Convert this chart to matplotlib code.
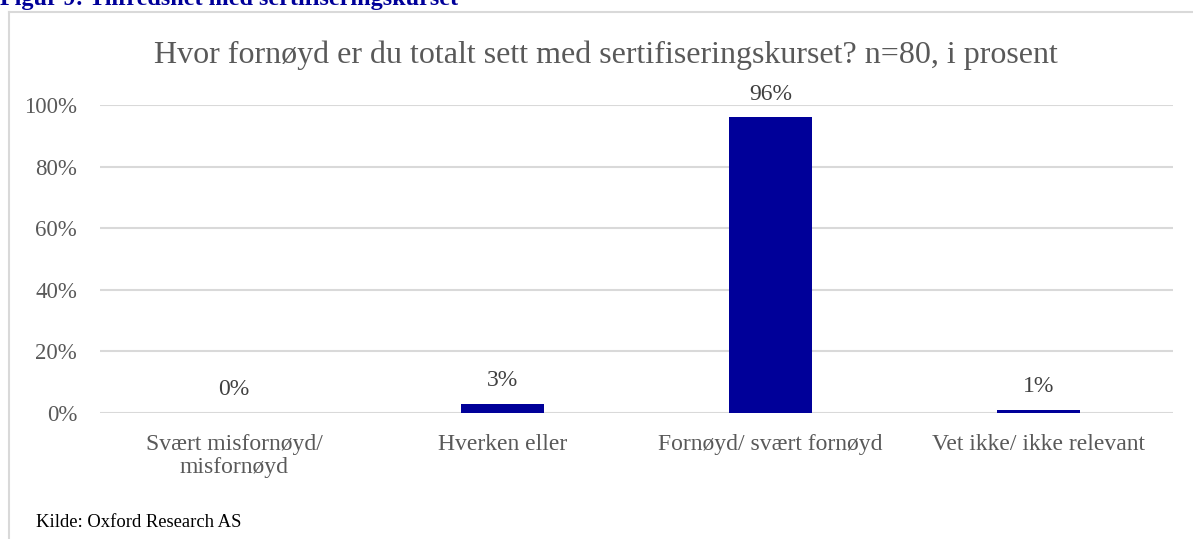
import matplotlib.pyplot as plt
from matplotlib.lines import Line2D
import numpy as np

# Data
kategorier = ['Svært misfornøyd/\nmisfornøyd', 'Hverken eller',
              'Fornøyd/ svært fornøyd', 'Vet ikke/ ikke relevant']
andel = [0, 3, 96, 1]
yticks = [0, 20, 40, 60, 80, 100]

plt.rcParams['font.family'] = ['Liberation Serif', 'DejaVu Serif']

fig = plt.figure(figsize=(11.93, 5.39), dpi=100)
ax = fig.add_axes([0.0838, 0.2338, 0.8994, 0.5714])

x = np.arange(len(kategorier))
bars = ax.bar(x, andel, width=0.31, color='#000099', zorder=3)

for xi, v in zip(x, andel):
    ax.annotate(f'{v}%', (xi, v), xytext=(0, 9), textcoords='offset points',
                ha='center', va='bottom', fontsize=17, color='#404040')

ax.set_xlim(-0.5, len(kategorier) - 0.5)
ax.set_ylim(0, 100)
ax.set_yticks(yticks)
ax.set_yticklabels([f'{t}%' for t in yticks], fontsize=16.5, color='#595959')
ax.set_xticks(x)
ax.set_xticklabels(kategorier, fontsize=17, color='#595959', linespacing=1.15)
ax.tick_params(axis='x', length=0, pad=15)
ax.tick_params(axis='y', length=0, pad=16.5)
ax.yaxis.grid(True, color='#d9d9d9', linewidth=1.5, zorder=0)
for s in ax.spines.values():
    s.set_visible(False)

ax.set_title('Hvor fornøyd er du totalt sett med sertifiseringskurset? n=80, i prosent',
             fontsize=23, color='#595959', pad=30, x=0.4716)

# frame
fig.add_artist(Line2D([0.0075, 0.0075], [0, 0.978], color='#d9d9d9', linewidth=1.5))
fig.add_artist(Line2D([0.0075, 1.0], [0.978, 0.978], color='#d9d9d9', linewidth=1.5))

fig.text(0.0, 0.9907, 'Figur 9: Tilfredshet med sertifiseringskurset', fontsize=17.4,
         fontweight='bold', color='#000099', ha='left', va='baseline')
fig.text(0.030, 0.030, 'Kilde: Oxford Research AS', fontsize=13.4, color='black',
         ha='left', va='center')

fig.savefig('out.png', dpi=100)
